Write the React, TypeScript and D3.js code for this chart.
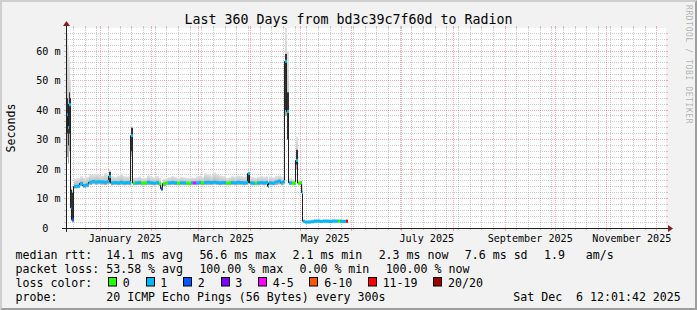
import React from "react";
import * as d3 from "d3";

const WIDTH = 697;
const HEIGHT = 310;
const FONT = "'DejaVu Sans Mono', monospace";

const titleText = "Last 360 Days from bd3c39c7f60d to Radion";
const yAxisTitle = "Seconds";
const watermark = "RRDTOOL / TOBI OETIKER";
const startTime = new Date(Date.UTC(2024, 11, 11, 12, 1, 42));
const endTime = new Date(Date.UTC(2025, 11, 6, 12, 1, 42));
const yMaxMs = 67.8;

const yTickValues = [0, 10, 20, 30, 40, 50, 60];
const yTickLabels = ["0  ", "10 m", "20 m", "30 m", "40 m", "50 m", "60 m"];
const xLabelMonths = ["2025-01-01", "2025-03-01", "2025-05-01", "2025-07-01", "2025-09-01", "2025-11-01"];
const xLabelTexts = ["January 2025", "March 2025", "May 2025", "July 2025", "September 2025", "November 2025"];

// day offsets from the start of the window
const dayOffset = [
  0.6, 1.2, 1.8, 2.4, 3.0, 3.6, 4.2, 4.8, 6.6, 8.4, 10.2, 12.0, 13.8, 15.6, 17.4, 19.2, 21.0, 22.8, 24.6, 25.8,
  27.0, 28.8, 30.6, 32.4, 34.2, 36.0, 37.8, 39.0, 40.2, 41.4, 43.2, 45.0, 46.8, 48.6, 50.4, 52.2, 54.0, 55.8, 57.0, 58.2,
  60.0, 61.2, 63.0, 64.8, 66.6, 68.4, 70.2, 72.0, 73.8, 75.0, 76.2, 78.0, 79.8, 81.0, 82.8, 84.6, 86.4, 88.2, 90.0, 91.8,
  93.6, 96.0, 97.8, 99.0, 100.8, 102.6, 104.4, 106.2, 108.0, 109.2, 110.4, 112.2, 113.4, 114.6, 116.4, 118.2, 120.0, 121.2, 121.8, 123.6,
  125.4, 127.2, 129.0, 130.2, 131.4, 132.6, 133.8, 135.6, 138.0, 138.9, 140.4, 141.6, 142.3, 143.4, 145.2, 147.0, 148.8, 150.6, 152.4, 154.2,
  156.0, 157.8, 159.6, 161.4, 163.2, 164.1, 165.6, 167.7, 169.0,
];
const medianMs = [
  38.4, 34.1, 41.8, 41.8, 6.8, 2.8, 2.8, 14.1, 14.2, 15.1, 14.4, 14.6, 15.5, 15.8, 15.6, 15.7, 15.6, 15.5, 15.8, 17.5,
  15.3, 15.4, 15.3, 15.5, 15.3, 15.4, 15.3, 31.3, 15.2, 15.3, 15.4, 15.2, 15.3, 15.5, 15.3, 15.2, 15.4, 15.0, 13.3, 15.0,
  15.3, 15.3, 15.4, 15.3, 15.2, 15.3, 15.3, 15.2, 15.2, 15.3, 15.3, 15.3, 15.4, 15.3, 15.4, 15.5, 15.4, 15.5, 15.4, 15.3,
  15.4, 15.2, 15.3, 15.4, 15.3, 15.5, 15.4, 15.3, 15.4, 18.5, 15.3, 15.2, 15.2, 15.3, 15.4, 15.3, 15.4, 14.1, 15.3, 15.2,
  15.6, 15.9, 15.3, 15.8, 56.5, 39.5, 15.3, 15.2, 22.9, 15.2, 15.3, 12.0, 2.3, 2.0, 2.0, 2.1, 2.3, 2.3, 2.2, 2.3,
  2.3, 2.2, 2.3, 2.3, 2.3, 2.3, 2.2, 2.3, null,
];
const smokeLowMs = [
  24, 22, 26, 28, 2.5, 2.0, 2.0, 13.4, 13.5, 14.2, 13.6, 13.8, 14.6, 14.8, 14.7, 14.8, 14.7, 14.6, 14.8, 15.0,
  14.5, 14.6, 14.5, 14.6, 14.5, 14.6, 14.5, 24.5, 14.5, 14.6, 14.6, 14.5, 14.5, 14.6, 14.6, 14.5, 14.6, 14.2, 12.6, 14.2,
  14.5, 14.5, 14.6, 14.5, 14.5, 14.6, 14.5, 14.5, 14.5, 14.5, 14.6, 14.5, 14.6, 14.5, 14.6, 14.6, 14.6, 14.7, 14.6, 14.5,
  14.6, 14.5, 14.5, 14.6, 14.5, 14.6, 14.6, 14.5, 14.6, 15.0, 14.5, 14.5, 14.5, 14.5, 14.6, 14.5, 14.6, 13.5, 14.5, 14.5,
  14.6, 14.8, 14.5, 14.8, 38, 30, 14.6, 14.5, 20, 14.5, 14.6, 11, 2.0, 1.8, 1.8, 1.9, 2.0, 2.0, 1.9, 2.0,
  2.0, 1.9, 2.0, 2.0, 2.0, 2.0, 1.9, 2.0, null,
];
const smokeHighMs = [
  66, 62, 58, 50, 14, 13, 14, 16.8, 17.0, 17.6, 17.0, 17.4, 18.2, 18.0, 18.4, 18.0, 17.8, 18.6, 18.2, 20.0,
  17.6, 17.4, 17.8, 18.4, 17.6, 17.5, 17.8, 34.5, 17.0, 17.2, 17.5, 17.0, 17.0, 17.8, 17.4, 17.2, 17.6, 17.0, 15.8, 16.8,
  17.0, 17.2, 17.6, 17.4, 17.0, 17.4, 17.2, 17.0, 17.0, 17.2, 17.0, 17.5, 17.8, 17.4, 18.6, 18.2, 17.8, 18.8, 18.4, 17.8,
  17.6, 17.0, 17.2, 17.6, 17.4, 17.8, 17.6, 17.4, 17.8, 19.0, 17.4, 17.2, 17.0, 17.4, 17.6, 17.4, 17.6, 16.5, 17.4, 17.2,
  17.6, 17.8, 17.4, 17.8, 68, 60, 16.8, 16.5, 31, 16.5, 16.5, 15, 2.8, 2.6, 2.8, 3.0, 3.1, 3.1, 3.0, 3.1,
  3.0, 3.1, 3.1, 3.0, 3.1, 3.1, 3.0, 3.0, null,
];
const denseLowMs = [
  32, 28, 32, 34, 3, 2.4, 2.4, null, null, null, null, null, null, null, null, null, null, null, null, 15.5,
  null, null, null, null, null, null, null, 26, null, null, null, null, null, null, null, null, null, null, null, null,
  null, null, null, null, null, null, null, null, null, null, null, null, null, null, null, null, null, null, null, null,
  null, null, null, null, null, null, null, null, null, 15.3, null, null, null, null, null, null, null, null, null, null,
  null, null, null, null, 40, 30, null, null, 21.5, null, null, null, null, null, null, null, null, null, null, null,
  null, null, null, null, null, null, null, null, null,
];
const denseHighMs = [
  44, 42, 46, 44, 13, 12, 13.5, null, null, null, null, null, null, null, null, null, null, null, null, 19,
  null, null, null, null, null, null, null, 34, null, null, null, null, null, null, null, null, null, null, null, null,
  null, null, null, null, null, null, null, null, null, null, null, null, null, null, null, null, null, null, null, null,
  null, null, null, null, null, null, null, null, null, 18.6, null, null, null, null, null, null, null, null, null, null,
  null, null, null, null, 59, 46, null, null, 26.5, null, null, null, null, null, null, null, null, null, null, null,
  null, null, null, null, null, null, null, null, null,
];
const lostPings = [
  1, 1, 1, 1, 2, 2, 2, 1, 1, 1, 1, 1, 1, 1, 1, 1, 1, 1, 1, 1,
  1, 1, 1, 1, 1, 1, 1, 1, 0, 1, 1, 0, 0, 1, 1, 1, 1, 0, 2, 0,
  0, 1, 1, 1, 0, 1, 1, 0, 0, 1, 4, 1, 1, 0, 1, 1, 1, 1, 1, 1,
  1, 0, 0, 1, 1, 1, 1, 1, 1, 1, 1, 1, 0, 1, 1, 1, 1, 1, 1, 1,
  1, 1, 1, 1, 1, 1, 1, 0, 1, 0, 0, 1, 1, 1, 1, 1, 1, 1, 1, 1,
  1, 1, 1, 1, 0, 1, 1, 11, 20,
];

const lossClassLabels = ["0", "1", "2", "3", "4-5", "6-10", "11-19", "20/20"];
const lossClassMax = [0, 1, 2, 3, 5, 10, 19, 20];
const lossClassColors = ["#26ff00", "#00b8ff", "#0059ff", "#7e00ff", "#ff00ff", "#ff5500", "#ff0000", "#a10000"];

const legendRtt = ["median rtt:  14.1 ms avg", "56.6 ms max", "2.1 ms min", "2.3 ms now", "7.6 ms sd", "1.9   am/s"];
const legendLoss = ["packet loss: 53.58 % avg", "100.00 % max", "0.00 % min", "100.00 % now"];
const legendLossColor = "loss color:";
const legendProbe = "probe:       20 ICMP Echo Pings (56 Bytes) every 300s";
const legendStamp = "Sat Dec  6 12:01:42 2025";

const lossColor = (n: number) => {
  for (let i = 0; i < lossClassMax.length; i++) if (n <= lossClassMax[i]) return lossClassColors[i];
  return lossClassColors[lossClassColors.length - 1];
};
const pre = (s: string) => s.replace(/ /g, "\u00a0");

export default function App() {
  const left = 66, right = 666, top = 28, bottom = 228;
  const x = d3.scaleUtc().domain([startTime, endTime]).range([left, right]);
  const y = d3.scaleLinear().domain([0, yMaxMs]).range([bottom, top]);
  const dayDate = (d: number) => new Date(startTime.getTime() + d * 86400000);
  const px = (d: number) => Math.round(x(dayDate(d)));
  const crisp = (v: number) => Math.floor(v) + 0.5;

  const majorMonths = d3.utcMonth.range(d3.utcMonth.ceil(startTime), endTime);
  const majorX = majorMonths.map((d) => crisp(x(d)));
  const minorX = d3.utcMonday
    .range(startTime, endTime)
    .map((d) => crisp(x(d)))
    .filter((v) => !majorX.includes(v));
  const majorY = d3.range(10, yMaxMs, 10).map((v) => crisp(y(v)));
  const minorY = d3.range(2, yMaxMs, 2).filter((v) => v % 10 !== 0).map((v) => crisp(y(v)));

  const gridMinor = "rgba(143,143,143,0.45)";
  const gridMajor = "rgba(222,79,79,0.45)";

  const n = dayOffset.length;
  const idx = d3.range(n);

  const medianPath = d3
    .line<number>()
    .defined((i) => medianMs[i] != null)
    .x((i) => px(dayOffset[i]) - 0.5)
    .y((i) => y(medianMs[i] as number))
    .curve(d3.curveStepAfter)(idx);

  const CW = 11.6 * 0.602;
  const GAP = 16.3;
  const layoutRow = (items: string[], x0: number) => {
    const xs: number[] = [];
    let cx = x0;
    items.forEach((s) => {
      xs.push(cx);
      cx += s.length * CW + GAP;
    });
    return xs;
  };
  const rttX = layoutRow(legendRtt, 15.5);
  const lossX = layoutRow(legendLoss, 15.5);
  const boxX: number[] = [];
  {
    let cx = 15.5 + legendLossColor.length * CW + GAP;
    lossClassLabels.forEach((s) => {
      boxX.push(cx);
      cx += 14.2 + s.length * CW + GAP;
    });
  }
  const rowY = [258.8, 272.7, 286.6, 300.5];

  return (
    <svg
      width={WIDTH}
      height={HEIGHT}
      style={{ position: "absolute", left: 0, top: 0, display: "block" }}
      fontFamily={FONT}
    >
      <defs>
        <clipPath id="plot">
          <rect x={left} y={top} width={right - left} height={bottom - top} />
        </clipPath>
        <linearGradient id="smoke" x1="0" y1="0" x2="0" y2="1">
          <stop offset="0" stopColor="#e4e4e4" />
          <stop offset="1" stopColor="#a8a8a8" />
        </linearGradient>
      </defs>
      <rect x={0} y={0} width={WIDTH} height={HEIGHT} fill="#f2f2f2" />
      <polygon points={`0,0 ${WIDTH},0 ${WIDTH - 2},2 2,2 2,${HEIGHT - 2} 0,${HEIGHT}`} fill="#cfcfcf" />
      <polygon
        points={`0,${HEIGHT} ${WIDTH},${HEIGHT} ${WIDTH},0 ${WIDTH - 2},2 ${WIDTH - 2},${HEIGHT - 2} 2,${HEIGHT - 2}`}
        fill="#9e9e9e"
      />
      <rect x={left} y={top} width={right - left} height={bottom - top} fill="#ffffff" />

      {/* grid */}
      <g strokeWidth={1} shapeRendering="crispEdges">
        {minorY.map((v, i) => (
          <g key={"my" + i} stroke={gridMinor}>
            <line x1={left} x2={right} y1={v} y2={v} strokeDasharray="1,1" />
            <line x1={left - 2} x2={left} y1={v} y2={v} />
            <line x1={right} x2={right + 2} y1={v} y2={v} />
          </g>
        ))}
        {minorX.map((v, i) => (
          <g key={"mx" + i} stroke={gridMinor}>
            <line x1={v} x2={v} y1={top} y2={bottom} strokeDasharray="1,1" />
            <line x1={v} x2={v} y1={top - 2} y2={top} />
            <line x1={v} x2={v} y1={bottom} y2={bottom + 2} />
          </g>
        ))}
        {majorY.map((v, i) => (
          <g key={"My" + i} stroke={gridMajor}>
            <line x1={left} x2={right} y1={v} y2={v} strokeDasharray="1,1" />
            <line x1={left - 2} x2={left} y1={v} y2={v} />
            <line x1={right} x2={right + 2} y1={v} y2={v} />
          </g>
        ))}
        {majorX.map((v, i) => (
          <g key={"Mx" + i} stroke={gridMajor}>
            <line x1={v} x2={v} y1={top} y2={bottom} strokeDasharray="1,1" />
            <line x1={v} x2={v} y1={top - 2} y2={top} />
            <line x1={v} x2={v} y1={bottom} y2={bottom + 3} />
          </g>
        ))}
      </g>

      {/* smoke */}
      <g clipPath="url(#plot)">
        {idx.slice(0, n - 1).map((i) =>
          smokeLowMs[i] == null ? null : (
            <rect
              key={"s" + i}
              x={px(dayOffset[i])}
              width={px(dayOffset[i + 1]) - px(dayOffset[i])}
              y={y(smokeHighMs[i] as number)}
              height={y(smokeLowMs[i] as number) - y(smokeHighMs[i] as number)}
              fill="url(#smoke)"
            />
          )
        )}
        {idx.slice(0, n - 1).map((i) =>
          denseLowMs[i] == null ? null : (
            <rect
              key={"d" + i}
              x={px(dayOffset[i])}
              width={px(dayOffset[i + 1]) - px(dayOffset[i])}
              y={y(denseHighMs[i] as number)}
              height={y(denseLowMs[i] as number) - y(denseHighMs[i] as number)}
              fill="#333333"
            />
          )
        )}
        <path d={medianPath || ""} fill="none" stroke="#202020" strokeWidth={1} />
        {idx.slice(0, n - 1).map((i) =>
          medianMs[i] == null ? null : (
            <line
              key={"m" + i}
              x1={px(dayOffset[i])}
              x2={px(dayOffset[i + 1])}
              y1={y(medianMs[i] as number)}
              y2={y(medianMs[i] as number)}
              stroke={lossColor(lostPings[i])}
              strokeWidth={3}
            />
          )
        )}
      </g>

      {/* axes */}
      <g stroke="#1f1f1f" strokeWidth={1}>
        <line x1={left - 4} x2={right + 4} y1={bottom + 0.5} y2={bottom + 0.5} />
        <line x1={left + 0.5} x2={left + 0.5} y1={bottom + 4} y2={top - 4} />
      </g>
      <polygon
        points={`${right + 2},${bottom - 3} ${right + 2},${bottom + 4} ${right + 7},${bottom + 0.5}`}
        fill="#801f1f"
      />
      <polygon
        points={`${left - 3},${top - 2} ${left + 4},${top - 2} ${left + 0.5},${top - 7}`}
        fill="#801f1f"
      />

      {/* y labels */}
      <g fontSize={10.1} fill="#000" textAnchor="end">
        {yTickValues.map((v, i) => (
          <text key={"yl" + i} x={60.5} y={crisp(y(v)) + 3.6}>
            {pre(yTickLabels[i])}
          </text>
        ))}
      </g>
      {/* x labels */}
      <g fontSize={10.1} fill="#000" textAnchor="middle">
        {xLabelMonths.map((m, i) => {
          const d = new Date(m + "T00:00:00Z");
          const c = x(d3.utcDay.offset(d, 15));
          return (
            <text key={"xl" + i} x={c} y={242.3}>
              {xLabelTexts[i]}
            </text>
          );
        })}
      </g>

      {/* title */}
      <text x={WIDTH / 2} y={23.6} fontSize={13.3} textAnchor="middle" fill="#000">
        {titleText}
      </text>
      <text transform="translate(14.8,128) rotate(-90)" fontSize={11.6} textAnchor="middle" fill="#000">
        {yAxisTitle}
      </text>
      <text
        transform="translate(685.6,5) rotate(90)"
        fontSize={8}
        letterSpacing={0.6}
        fill="#000"
        fillOpacity={0.3}
      >
        {watermark}
      </text>

      {/* legend */}
      <g fontSize={11.6} fill="#000">
        {legendRtt.map((s, i) => (
          <text key={"r" + i} x={rttX[i]} y={rowY[0]}>
            {pre(s)}
          </text>
        ))}
        {legendLoss.map((s, i) => (
          <text key={"l" + i} x={lossX[i]} y={rowY[1]}>
            {pre(s)}
          </text>
        ))}
        <text x={15.5} y={rowY[2]}>
          {pre(legendLossColor)}
        </text>
        {lossClassLabels.map((s, i) => (
          <g key={"b" + i}>
            <rect
              x={Math.floor(boxX[i]) + 0.5}
              y={277.5}
              width={8}
              height={8.5}
              fill={lossClassColors[i]}
              stroke="#000"
              strokeWidth={1}
            />
            <text x={boxX[i] + 14.2} y={rowY[2]}>
              {s}
            </text>
          </g>
        ))}
        <text x={15.5} y={rowY[3]}>
          {pre(legendProbe)}
        </text>
        <text x={680.8} y={rowY[3]} textAnchor="end">
          {pre(legendStamp)}
        </text>
      </g>
    </svg>
  );
}
